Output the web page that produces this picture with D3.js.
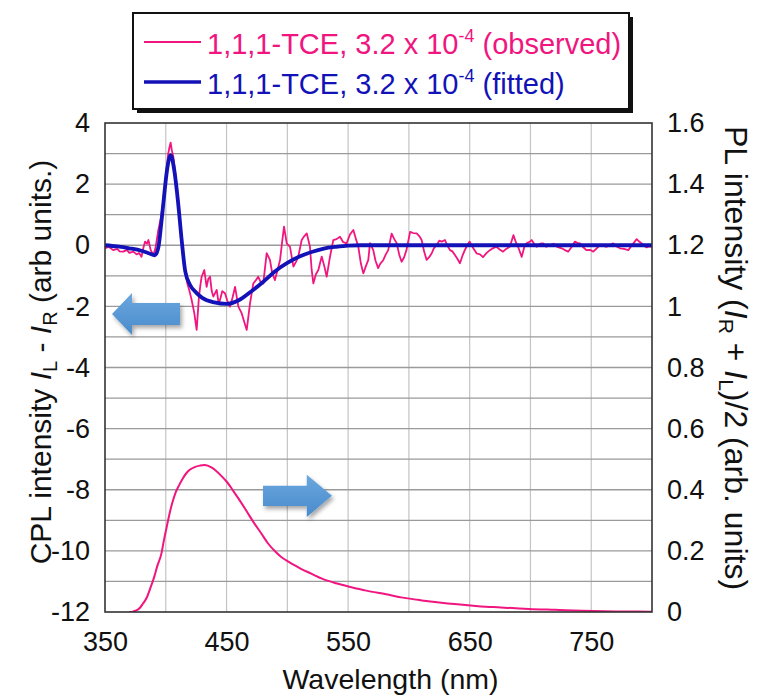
<!DOCTYPE html>
<html><head><meta charset="utf-8">
<script src="https://cdn.jsdelivr.net/npm/d3@7"></script>
<style>body{margin:0;background:#fff}text{font-family:"Liberation Sans",Arial,sans-serif}</style>
</head><body>
<svg id="c" width="760" height="699"></svg>
<script>
const xTicks=[350,450,550,650,750];
const yLeftTicks=[4,2,0,-2,-4,-6,-8,-10,-12];
const yRightTicks=[1.6,1.4,1.2,1,0.8,0.6,0.4,0.2,0];

const obsX=[350,353,356.8,360,362,365,368,370,373.3,376,378,380,381.5,383,384.5,385.7,387.6,389.8,391.5,393.9,396,398,400,402,403,404,405,406.2,408,410.3,412.5,414.4,416,417.7,419.5,421.3,423.5,425.4,427.3,428.5,429.5,431.7,433.6,435,436.4,437.8,439.1,441.9,443.5,444.6,446.5,448.7,450.5,452.8,455,457,459.7,462.5,464.5,466.6,469.3,472,474,476,478,480.2,483,485.7,487.5,489.8,492,494,496,497.3,499.5,502.2,505,507,509,511.8,514,516,518.6,520,521.4,523.5,525.5,528.3,530.5,532.4,535,537.8,540.5,543.3,546,548.8,551.5,554.3,556.5,558.4,560.5,562.5,564.5,566.6,568,570.7,572.5,574.7,576.5,578.9,581,583,585.8,588,590,592,594,596,598,601,603.5,606.4,608.5,610.5,612.5,614.6,616.5,618.7,620.5,622.8,625,627,629.7,631.5,633.8,635.8,637.9,640,642,644,646,648,650,653,655.8,658.5,661,664,666.7,669,672,675,677.5,680,683,686,688,689.8,692.8,695,697,699,701,703,705,708,710.5,713,716,719,722,725.7,728,731,734,736.6,738.5,740.7,743,746,749,751.7,754.5,757,760,762.7,765,768,770.5,773.7,777,780.5,783.5,787.4,789.5,791.5,794,795.6,797.5,800];
const obsY=[-0.1,-0.05,-0.16,-0.12,-0.2,-0.21,-0.15,-0.25,-0.21,-0.3,-0.25,-0.38,-0.1,0.12,0.05,0.17,-0.16,-0.32,-0.1,0.5,0.9,1.48,2.2,3.0,3.2,3.36,3.1,2.9,2.3,1.48,0.5,-0.48,-0.9,-1.25,-1.5,-1.79,-2.23,-2.77,-1.68,-1.3,-1.03,-0.81,-1.36,-1.1,-1.03,-1.5,-1.68,-1.46,-1.9,-1.79,-1.5,-1.57,-1.8,-2.01,-1.7,-1.36,-2.01,-2.23,-2.5,-2.77,-1.9,-1.25,-1.15,-1.03,-1.2,-1.25,-0.26,-0.48,-0.9,-1.14,-0.8,-0.48,0.2,0.61,0.06,-0.05,-0.7,-0.55,-0.37,0.17,0.3,0.39,-0.05,-0.8,-1.25,-0.95,-0.81,-0.37,-0.7,-1.03,-0.4,0.17,0.2,0.28,0.1,0.06,0.35,0.5,0.2,-0.05,-0.6,-0.92,-0.7,-0.48,0.07,-0.16,-0.5,-0.75,-0.6,-0.49,-0.3,-0.16,0.38,0.2,0.07,-0.3,-0.54,-0.4,-0.16,0.44,0.4,0.39,0.3,0.17,-0.2,-0.48,-0.4,-0.27,-0.1,0.0,0.15,0.12,0.17,0.0,-0.16,-0.2,-0.32,-0.45,-0.59,-0.35,-0.16,0.0,0.12,-0.1,-0.27,-0.3,-0.39,-0.25,-0.16,-0.1,-0.05,-0.15,-0.21,-0.12,-0.05,0.33,0.1,-0.05,-0.38,-0.05,0.07,0.1,0.17,0.05,-0.05,0.05,0.06,-0.05,0.0,0.05,-0.05,-0.1,-0.15,-0.21,-0.05,0.12,0.08,0.06,-0.05,-0.16,-0.15,-0.21,-0.1,0.0,-0.02,-0.05,0.0,0.06,-0.03,-0.1,-0.12,-0.16,0.0,0.2,0.12,0.06,-0.03,-0.07,-0.04,-0.05];

const fitX=[350,360,370,380,386,391,394,396,398,401,404,407,410,413,416,420,425,430,440,450,460,470,480,490,500,510,520,530,540,550,560,600,700,800];
const fitY=[0,-0.04,-0.1,-0.18,-0.26,-0.33,-0.05,0.6,1.37,2.45,2.95,2.45,1.45,0.2,-0.85,-1.3,-1.55,-1.72,-1.87,-1.92,-1.8,-1.52,-1.2,-0.85,-0.58,-0.37,-0.22,-0.11,-0.05,-0.01,0,0,0,0];

const plX=[370,372.9,375,378.8,381,384.6,387,390.5,393,396.4,398.5,400.8,403,405.2,408,411,414,416.9,420,424.2,428,431.6,434.5,437.5,441,446.3,450,455.1,460,466.8,472,478.6,484,490.3,495,499.1,505,510.8,520,528.5,540,551.9,565,581.3,595,610.6,625,640,655,669.3,685,698.7,720,742.7,770,800];
const plY=[0,0.001,0.004,0.014,0.026,0.049,0.075,0.115,0.15,0.191,0.235,0.279,0.32,0.355,0.39,0.415,0.437,0.454,0.466,0.475,0.479,0.481,0.479,0.473,0.463,0.443,0.427,0.399,0.37,0.328,0.295,0.257,0.225,0.197,0.18,0.169,0.155,0.142,0.125,0.109,0.094,0.082,0.07,0.058,0.047,0.038,0.031,0.025,0.02,0.016,0.013,0.010,0.007,0.004,0.002,0.001];

// arrows in data units (left axis): [tailX, headBaseX, tipX, centerY, shaftHalf, headHalf]
const arrowLeft=[411.7,372.2,355.8,-2.25,0.36,0.69];
const arrowRight=[480,516,536.7,-8.2,0.33,0.69];

const PINK="#f0157f", BLUE="#1212b8";
const L=105,R=652,T=123,B=612;
const svg=d3.select("#c");
const x=d3.scaleLinear([350,800],[L,R]);
const yL=d3.scaleLinear([-12,4],[B,T]);
const yR=d3.scaleLinear([0,1.6],[B,T]);

const defs=svg.append("defs");
defs.append("clipPath").attr("id","clip").append("rect").attr("x",L).attr("y",T).attr("width",R-L).attr("height",B-T);
const g1=defs.append("linearGradient").attr("id","ag").attr("x1",0).attr("y1",0).attr("x2",0).attr("y2",1);
g1.append("stop").attr("offset","0").attr("stop-color","#6aa7de");
g1.append("stop").attr("offset","1").attr("stop-color","#4a8bcc");
const f=defs.append("filter").attr("id","sh").attr("x","-20%").attr("y","-20%").attr("width","150%").attr("height","160%");
f.append("feDropShadow").attr("dx",2).attr("dy",3).attr("stdDeviation",2).attr("flood-color","#000").attr("flood-opacity",0.35);

// grid
svg.append("g").selectAll("line").data(d3.range(400,800,50)).join("line")
  .attr("x1",d=>x(d)).attr("x2",d=>x(d)).attr("y1",T).attr("y2",B)
  .attr("stroke","#c4c4c4").attr("stroke-width",1.2);
svg.append("g").selectAll("line").data(d3.range(-11,4,1)).join("line")
  .attr("x1",L).attr("x2",R).attr("y1",d=>yL(d)).attr("y2",d=>yL(d))
  .attr("stroke","#9a9a9a").attr("stroke-width",1.3);

// axes
const fs=27;
const ax=svg.append("g").attr("transform",`translate(0,${B})`)
  .call(d3.axisBottom(x).tickValues(xTicks).tickSize(0).tickPadding(20).tickFormat(d=>String(d)));
const ayl=svg.append("g").attr("transform",`translate(${L},0)`)
  .call(d3.axisLeft(yL).tickValues(yLeftTicks).tickSize(0).tickPadding(15).tickFormat(d=>String(d)));
const ayr=svg.append("g").attr("transform",`translate(${R},0)`)
  .call(d3.axisRight(yR).tickValues(yRightTicks).tickSize(0).tickPadding(15).tickFormat(d=>String(+d.toFixed(1))));
[ax,ayl,ayr].forEach(a=>{a.select(".domain").remove();a.selectAll("text").attr("font-size",fs).attr("fill","#111").style("font-family","'Liberation Sans',Arial,sans-serif");});

// arrows
function arrow(a,scaleY){
  const [tx,hb,tip,cy,sh,hh]=a;
  const pts=[[x(tx),scaleY(cy+sh)],[x(hb),scaleY(cy+sh)],[x(hb),scaleY(cy+hh)],[x(tip),scaleY(cy)],[x(hb),scaleY(cy-hh)],[x(hb),scaleY(cy-sh)],[x(tx),scaleY(cy-sh)]];
  svg.append("polygon").attr("points",pts.map(p=>p.join(",")).join(" ")).attr("fill","url(#ag)").attr("filter","url(#sh)");
}
arrow(arrowLeft,yL);
arrow(arrowRight,yL);

// lines
const plot=svg.append("g").attr("clip-path","url(#clip)");
const obs=obsX.map((d,i)=>[d,obsY[i]]);
const fit=fitX.map((d,i)=>[d,fitY[i]]);
const pl=plX.map((d,i)=>[d,plY[i]]);
plot.append("path").datum(obs).attr("fill","none").attr("stroke",PINK).attr("stroke-width",1.8).attr("stroke-linejoin","round")
  .attr("d",d3.line().x(d=>x(d[0])).y(d=>yL(d[1])));
plot.append("path").datum(pl).attr("fill","none").attr("stroke",PINK).attr("stroke-width",2)
  .attr("d",d3.line().x(d=>x(d[0])).y(d=>yR(d[1])).curve(d3.curveMonotoneX));
svg.append("path").datum(fit).attr("fill","none").attr("stroke",BLUE).attr("stroke-width",3.8).attr("stroke-linejoin","round")
  .attr("d",d3.line().x(d=>x(d[0])).y(d=>yL(d[1])).curve(d3.curveMonotoneX));

// frame
svg.append("rect").attr("x",L).attr("y",T).attr("width",R-L).attr("height",B-T).attr("fill","none").attr("stroke","#333").attr("stroke-width",1.6);

// axis titles
svg.append("text").attr("x",(L+R)/2+12).attr("y",689).attr("text-anchor","middle").attr("font-size",28.5).attr("fill","#111").text("Wavelength (nm)");
const lt=svg.append("text").attr("transform","translate(51,362) rotate(-90)").attr("text-anchor","middle").attr("font-size",30).attr("fill","#111");
lt.append("tspan").text("CPL intensity ");
lt.append("tspan").attr("font-style","italic").text("I");
lt.append("tspan").attr("font-size",20).attr("dy",6).text("L");
lt.append("tspan").attr("dy",-6).text(" - ");
lt.append("tspan").attr("font-style","italic").text("I");
lt.append("tspan").attr("font-size",20).attr("dy",6).text("R");
lt.append("tspan").attr("dy",-6).text(" (arb units.)");
const rt=svg.append("text").attr("transform","translate(725,358) rotate(90)").attr("text-anchor","middle").attr("font-size",32).attr("fill","#111");
rt.append("tspan").text("PL intensity (");
rt.append("tspan").attr("font-style","italic").text("I");
rt.append("tspan").attr("font-size",21).attr("dy",6).text("R");
rt.append("tspan").attr("dy",-6).text(" + ");
rt.append("tspan").attr("font-style","italic").text("I");
rt.append("tspan").attr("font-size",21).attr("dy",6).text("L");
rt.append("tspan").attr("dy",-6).text(")/2 (arb. units)");

// legend
const lg=svg.append("g");
lg.append("rect").attr("x",137).attr("y",17).attr("width",496).attr("height",96).attr("fill","#111");
lg.append("rect").attr("x",133).attr("y",13).attr("width",496).attr("height",96).attr("fill","#fff").attr("stroke","#111").attr("stroke-width",2);
const items=[{c:PINK,w:1.8,t:" (observed)"},{c:BLUE,w:3.5,t:" (fitted)"}];
items.forEach((it,i)=>{
  const yy=42+i*40;
  lg.append("line").attr("x1",144).attr("x2",201).attr("y1",yy).attr("y2",yy).attr("stroke",it.c).attr("stroke-width",it.w);
  const t=lg.append("text").attr("x",207).attr("y",yy+12).attr("font-size",29).attr("fill",it.c);
  t.append("tspan").text("1,1,1-TCE, 3.2 x 10");
  t.append("tspan").attr("font-size",18).attr("dy",-12).text("-4");
  t.append("tspan").attr("dy",12).text(it.t);
});
</script>
</body></html>
